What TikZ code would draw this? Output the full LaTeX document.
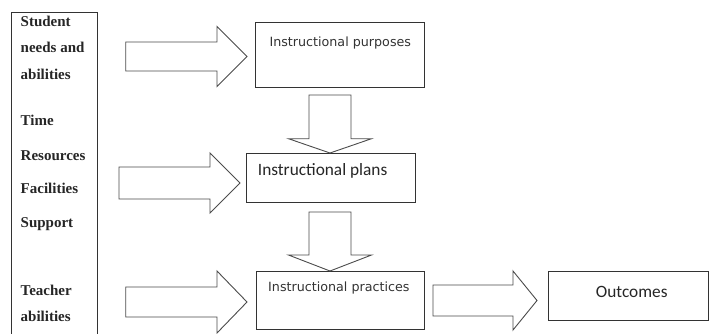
\documentclass[tikz,border=0pt]{standalone}
\usepackage{fontspec}
\setmainfont{Liberation Serif}
\newfontfamily\djv{DejaVu Sans}
\newfontfamily\clb{Carlito}
\newcommand{\harrow}[6]{% x0, head start, tip, yc, shaft half, head half
  \draw[barrow] (#1,#4-#5) -- (#2,#4-#5) -- (#2,#4-#6) -- (#3,#4) -- (#2,#4+#6) -- (#2,#4+#5) -- (#1,#4+#5) -- cycle;}
\newcommand{\varrow}[6]{% y0, head start, tip, xc, shaft half, head half
  \draw[barrow] (#4-#5,#1) -- (#4-#5,#2) -- (#4-#6,#2) -- (#4,#3) -- (#4+#6,#2) -- (#4+#5,#2) -- (#4+#5,#1) -- cycle;}
\begin{document}
\begin{tikzpicture}[x=1bp,y=-1bp,
  box/.style={draw=black!80, line width=0.9bp, inner sep=0pt, outer sep=0pt, anchor=north west},
  barrow/.style={draw=black!70, line width=0.9bp, fill=white, line join=miter},
  lbl/.style={font=\bfseries\fontsize{15bp}{18bp}\selectfont, anchor=base west, inner sep=0pt, text=black!85},
  dtxt/.style={font=\djv\fontsize{12.7bp}{15bp}\selectfont, anchor=base west, inner sep=0pt, text=black!80},
  ctxt/.style={font=\clb\fontsize{17.3bp}{20bp}\selectfont, anchor=base west, inner sep=0pt, text=black!85}]
\useasboundingbox (0,0) rectangle (709,333);
\fill[white] (0,0) rectangle (709,333);

% left column
\draw[draw=black!80, line width=0.9bp] (11,336) -- (11,12) -- (97,12) -- (97,336);
\node[lbl] (l1) at (20.5,26) {Student};
\node[lbl] (l2) at (20.5,52.7) {needs and};
\node[lbl] (l3) at (20.5,79.3) {abilities};
\node[lbl] (l4) at (20.5,125.3) {Time};
\node[lbl] (l5) at (20.5,160.3) {Resources};
\node[lbl] (l6) at (20.5,193.3) {Facilities};
\node[lbl] (l7) at (20.5,227.5) {Support};
\node[lbl] (l8) at (20.5,295.5) {Teacher};
\node[lbl] (l9) at (20.5,321.7) {abilities};

% boxes
\node[box, minimum width=169bp, minimum height=65bp] (purp) at (255,22) {};
\node[dtxt] (purpT) at (269.3,46) {Instructional purposes};
\node[box, minimum width=169bp, minimum height=49bp] (plan) at (246,153) {};
\node[ctxt] (planT) at (257.7,175) {Instructional plans};
\node[box, minimum width=168bp, minimum height=58bp] (prac) at (256,271) {};
\node[dtxt] (pracT) at (268,291.7) {Instructional practices};
\node[box, minimum width=160bp, minimum height=49bp] (outc) at (548,271) {};
\node[ctxt] (outcT) at (595.7,297.3) {Outcomes};

% block arrows
\harrow{125.7}{217}{247}{56.5}{14.5}{30}
\harrow{119}{210}{240}{183}{16}{30}
\harrow{125.7}{217}{247}{302}{15}{31}
\harrow{433}{513}{537}{300.5}{15.5}{29.5}
\varrow{95}{138.7}{153}{330}{21}{41.5}
\varrow{212}{255}{271}{330}{21}{41.5}
\end{tikzpicture}
\end{document}
